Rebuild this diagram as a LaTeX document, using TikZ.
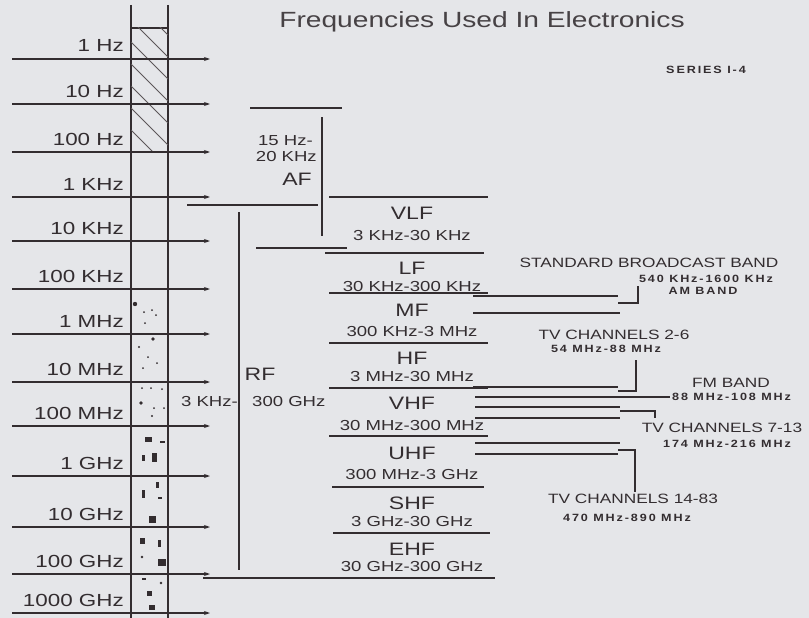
\documentclass[tikz,border=0pt]{standalone}
\usepackage{fontspec}
\usepackage{tikz}
\usetikzlibrary{arrows.meta}
\setmainfont{Liberation Sans}
\newfontfamily\wide[FakeStretch=1.28]{Liberation Sans}
\newfontfamily\tagfont[FakeStretch=1.2,LetterSpace=18]{Liberation Sans}
\definecolor{chInk}{HTML}{332D30}
\definecolor{chPaper}{HTML}{E5E6E9}
\tikzset{
  % Decade arrow (left scale)
  farr/.style={-{Stealth[length=6pt,width=4pt]},line width=1.3pt,draw=chInk},
  % Plain rule
  rule/.style={line width=1.25pt,draw=chInk},
  hatch/.style={line width=0.8pt,draw=chInk!80},
  % Decade label
  flbl/.style={font=\wide\fontsize{17.5}{18}\selectfont,text=chInk,
    inner sep=0pt,anchor=base east},
  % Band name and range
  bname/.style={font=\wide\fontsize{18}{20}\selectfont,text=chInk,inner sep=0pt},
  brange/.style={font=\wide\fontsize{14.5}{16}\selectfont,text=chInk,inner sep=0pt},
  % Service label and small tag
  svc/.style={font=\wide\fontsize{13.5}{15}\selectfont,text=chInk,inner sep=0pt},
  tag/.style={font=\tagfont\bfseries\fontsize{10.5}{12}\selectfont,text=chInk,inner sep=0pt},
  ttl/.style={font=\wide\fontsize{22}{24}\selectfont,text=chInk!90,inner sep=0pt},
}
\begin{document}
\begin{tikzpicture}[x=1pt,y=-1pt]
  \fill[chPaper] (0,0) rectangle (809,618);
  \useasboundingbox (0,0) rectangle (809,618);

  % Title
  \node[ttl,anchor=base] (title) at (482,28) {Frequencies Used In Electronics};
  \node[tag] (series) at (706,70) {SERIES I-4};

  % Frequency column
  \draw[rule] (131,5) -- (131,618);
  \draw[rule] (168,5) -- (168,618);
  \draw[rule] (131,28) -- (168,28);
  \begin{scope}
    \clip (131,28) rectangle (168,152);
    \foreach \d in {-30,-8,...,130}
      \draw[hatch] (131,28+\d) -- ++(37,37);
  \end{scope}
  \foreach \x/\y/\r in {135/304/2.2,144/312/1,152/310/1,156/315/1,145/323/1,
      153/339/1.8,139/347/1.1,148/357/1,157/363/1,143/368/1,
      142/388/1,151/388/1,162/389/1,141/403/1.8,154/408/1,164/408/1,
      152/416/1.1,142/557/1.4,161/583/1.4}
    \fill[chInk] (\x,\y) circle (\r pt);
  \foreach \x/\y/\w/\h in {145/437/7/4.5,160/441/5/1.8,142/455/3/6,152/453/4.5/9,
      156/482/2.5/6,142/490/2.5/8,158/497/4/1.5,149/516/6.5/6.5,
      140/538/4.5/5.5,158/540/3/7,158/559/7.5/6.5,
      142/578/4/1.8,147/591/4.5/5,149/605/5.5/4.5}
    \fill[chInk] (\x,\y) rectangle ++(\w,\h);

  % Decade arrows and labels
  \foreach \y/\f [count=\i] in {59/1 Hz,104/10 Hz,152/100 Hz,197/1 KHz,
      241/10 KHz,289/100 KHz,334/1 MHz,382/10 MHz,426/100 MHz,
      476/1 GHz,527/10 GHz,574/100 GHz,613/1000 GHz} {
    \draw[farr] (12,\y) -- (210,\y);
    \node[flbl] (f\i) at (124,\y-7) {\f};
  }

  % AF bracket
  \draw[rule] (250,108) -- (342,108);
  \draw[rule] (322,117) -- (322,236);
  \draw[rule] (256,248) -- (347,248);
  \node[brange,anchor=east] (af1) at (313,141) {15 Hz-};
  \node[brange,anchor=east] (af2) at (317,157) {20 KHz};
  \node[bname] (af) at (297,179) {AF};

  % RF bracket
  \draw[rule] (187,205) -- (318,205);
  \draw[rule] (239,212) -- (239,570);
  \draw[rule] (203,578) -- (495,578);
  \node[bname] (rf) at (260,374) {RF};
  \node[brange,anchor=east] (rf1) at (238,402) {3 KHz-};
  \node[brange,anchor=west] (rf2) at (252,402) {300 GHz};

  % Band dividers
  \foreach \y/\a/\b in {197/329/488,253/325/484,293/329/488,343/329/488,
      388/329/488,436/329/488,487/332/484,533/333/490}
    \draw[rule] (\a,\y) -- (\b,\y);

  % Band names and ranges
  \foreach \n/\ny/\r/\ry in {VLF/213/3 KHz-30 KHz/236,LF/268/30 KHz-300 KHz/287,
      MF/310/300 KHz-3 MHz/332,HF/358/3 MHz-30 MHz/377,
      VHF/403/30 MHz-300 MHz/426,UHF/453/300 MHz-3 GHz/475,
      SHF/503/3 GHz-30 GHz/522,EHF/549/30 GHz-300 GHz/567} {
    \node[bname] (\n) at (412,\ny) {\n};
    \node[brange] (\n-rng) at (412,\ry) {\r};
  }

  % Service lines
  \foreach \y/\a/\b in {296/473/618,313/473/620,387/473/618,397/475/670,
      407/475/620,418/475/620,443/475/620,454/475/618}
    \draw[rule] (\a,\y) -- (\b,\y);
  \draw[rule] (618,303) -- (638,303) -- (638,286);
  \draw[rule] (618,391) -- (636,391) -- (636,360);
  \draw[rule] (620,411) -- (655,411) -- (655,418);
  \draw[rule] (618,450) -- (635,450) -- (635,492);

  % Service labels
  \node[svc] (am) at (649,263) {STANDARD BROADCAST BAND};
  \node[tag] (am-rng) at (706,279) {540 KHz-1600 KHz};
  \node[tag] (am-b) at (703,291) {AM BAND};
  \node[svc] (tv1) at (614,335) {TV CHANNELS 2-6};
  \node[tag] (tv1-rng) at (606,349) {54 MHz-88 MHz};
  \node[svc] (fm) at (731,383) {FM BAND};
  \node[tag,anchor=west] (fm-rng) at (672,397) {88 MHz-108 MHz};
  \node[svc] (tv2) at (722,428) {TV CHANNELS 7-13};
  \node[tag] (tv2-rng) at (727,444) {174 MHz-216 MHz};
  \node[svc] (tv3) at (633,499) {TV CHANNELS 14-83};
  \node[tag] (tv3-rng) at (627,518) {470 MHz-890 MHz};
\end{tikzpicture}
\end{document}
